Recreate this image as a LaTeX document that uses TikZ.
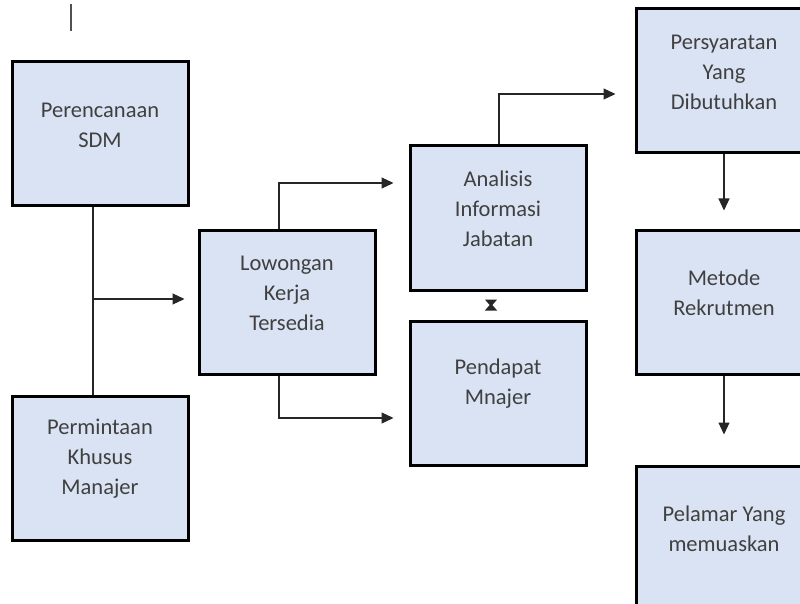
\documentclass[tikz,border=0pt]{standalone}
\usepackage{fontspec}
\setmainfont{Carlito}
\usepackage{xcolor}
\usepackage{tikz}
\usetikzlibrary{positioning,arrows.meta,calc}
\definecolor{boxfill}{RGB}{218,227,243}
\definecolor{txtgray}{RGB}{64,64,64}
\definecolor{linegray}{RGB}{38,38,38}

\begin{document}
\begin{tikzpicture}[x=1pt,y=-1pt,
  boxtext/.style={align=center,text=txtgray,font=\fontsize{22.5}{30}\selectfont,yshift=9pt},
  box/.style={draw=black,line width=3pt,fill=boxfill,minimum width=176pt,minimum height=144pt,
    inner sep=0pt,label={[boxtext]center:#1}},
  conn/.style={line width=1.1pt,draw=linegray},
  arr/.style={conn,-{Triangle[length=12pt,width=11pt]}},
  hglass/.style={conn,{Triangle[reversed,length=7pt,width=12pt]}-{Triangle[reversed,length=7pt,width=12pt]}}]
  \useasboundingbox (0,0) rectangle (800,604);
  \draw[line width=2pt,linegray!80] (71,4) -- (71,31);
  \node[box={Perencanaan\\SDM}] (sdm) at (100,134) {};
  \node[box={Permintaan\\Khusus\\Manajer}] (minta) at (100,468) {};
  \node[box={Lowongan\\Kerja\\Tersedia}] (lowong) at (287,302) {};
  \node[box={Analisis\\Informasi\\Jabatan}] (analis) at (498,218) {};
  \node[box={Pendapat\\Mnajer}] (pendapat) at (498,393) {};
  \node[box={Persyaratan\\Yang\\Dibutuhkan}] (syarat) at (724,81) {};
  \node[box={Metode\\Rekrutmen}] (metode) at (724,302) {};
  \node[box={Pelamar Yang\\memuaskan}] (pelamar) at (724,538) {};
  \coordinate (cabang) at (93,299);
  \draw[conn] ([xshift=-7pt]sdm.south) -- ([xshift=-7pt]minta.north);
  \draw[arr,shorten >=13pt] (cabang) -- (cabang -| lowong.west);
  \draw[arr,shorten >=15pt] ([xshift=-8pt]lowong.north) |- ([yshift=35pt]analis.west);
  \draw[arr,shorten >=15pt] ([xshift=-8pt]lowong.south) |- ([yshift=-25pt]pendapat.west);
  \draw[arr,shorten >=19pt] ([xshift=1pt]analis.north) |- ([yshift=-13pt]syarat.west);
  \draw[hglass,shorten <=8pt,shorten >=9pt] ([xshift=-7pt]analis.south) -- ([xshift=-7pt]pendapat.north);
  \draw[arr,shorten >=18pt] (syarat.south) -- (metode.north);
  \draw[arr,shorten >=30pt] (metode.south) -- (pelamar.north);
\end{tikzpicture}
\end{document}
